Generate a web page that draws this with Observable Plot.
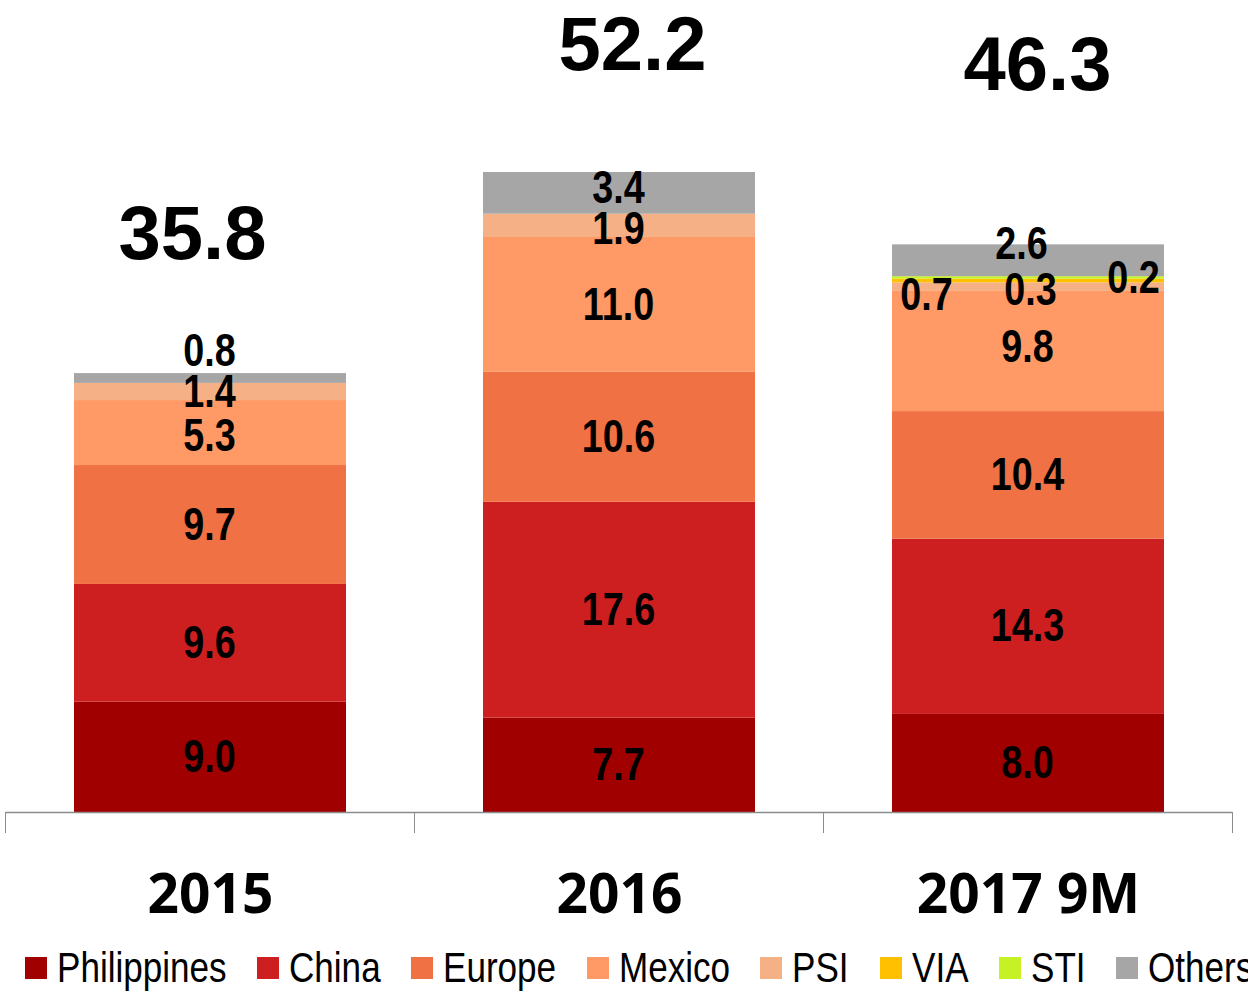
<!DOCTYPE html>
<html><head><meta charset="utf-8">
<script src="https://cdn.jsdelivr.net/npm/d3@7"></script>
<script src="https://cdn.jsdelivr.net/npm/@observablehq/plot@0.6"></script>
<style>
html,body{margin:0;padding:0;background:#fff}
body{width:1248px;height:995px;overflow:hidden}
#legend{display:flex;align-items:center;height:55px;padding-left:25px;white-space:nowrap;font-family:"Liberation Sans",Arial,sans-serif;font-size:42px;color:#000}
.item{display:flex;align-items:center;margin-right:30.5px;flex:none}
.sw{width:22px;height:22px;margin-right:10px;flex:none}
.lt{display:inline-block;transform-origin:left center}
</style></head><body><div id="chart"></div><div id="legend"></div>
<script>
const years = ["2015", "2016", "2017 9M"];
const series = ["Philippines", "China", "Europe", "Mexico", "PSI", "VIA", "STI", "Others"];
const colors = ["#A00000", "#CD1F1F", "#F07244", "#FF9966", "#F5B085", "#FFC000", "#C5F125", "#A6A6A6"];
const philippines = [9.0, 7.7, 8.0];
const china = [9.6, 17.6, 14.3];
const europe = [9.7, 10.6, 10.4];
const mexico = [5.3, 11.0, 9.8];
const psi = [1.4, 1.9, 0.7];
const via = [0, 0, 0.3];
const sti = [0, 0, 0.2];
const others = [0.8, 3.4, 2.6];
const totals = [35.8, 52.2, 46.3];

const valuesBySeries = [philippines, china, europe, mexico, psi, via, sti, others];
const NARROW = 0.82; // emulate a narrow face by horizontal compression
const LEGEND_NARROW = 0.835;

// label nudges in pixels [dx, dy]
const nudges = {
  "2015|Others": [0, -27], "2015|Mexico": [0, 3],
  "2016|Others": [0, -5], "2016|PSI": [0, 3],
  "2017 9M|Mexico": [0, -4], "2017 9M|PSI": [-101, 8], "2017 9M|VIA": [3, 9],
  "2017 9M|STI": [106, 0], "2017 9M|Others": [-6, -17]
};
const totalNudges = [[-18, -139], [13, -127], [9, -179]];

const rows = [];
years.forEach((yr, i) => {
  let cum = 0;
  series.forEach((s, j) => {
    const v = valuesBySeries[j][i];
    if (v > 0) {
      rows.push({year: yr, series: s, value: v, mid: cum + v / 2});
      cum += v;
    }
  });
});

const labelMarks = rows.map(r => {
  const n = nudges[r.year + "|" + r.series] || [0, 0];
  return Plot.text([r], {
    x: "year", y: "mid", text: d => d.value.toFixed(1),
    dx: n[0] - 1, dy: n[1], fontSize: 46, fontWeight: "bold", fill: "#000",
    fontFamily: '"Liberation Sans",Arial,sans-serif'
  });
});
const totalMarks = years.map((yr, i) => Plot.text([{year: yr, total: totals[i]}], {
  x: "year", y: "total", text: d => d.total.toFixed(1),
  dx: totalNudges[i][0], dy: totalNudges[i][1], fontSize: 76, fontWeight: "bold",
  fill: "#000", fontFamily: '"Liberation Sans",Arial,sans-serif'
}));

const chart = Plot.plot({
  width: 1248, height: 940,
  marginTop: 0, marginBottom: 128, marginLeft: 5, marginRight: 16,
  x: {domain: years, paddingInner: 0.335, paddingOuter: 0.1675, align: 0.5, axis: null},
  y: {domain: [0, 66.23], axis: null},
  color: {domain: series, range: colors},
  style: {background: "#fff"},
  marks: [
    Plot.barY(rows, Plot.stackY({x: "year", y: "value", fill: "series", z: "series", order: series})),
    ...labelMarks,
    ...totalMarks,
    Plot.text(years, {x: d => d, y: () => 0, text: d => d, dy: 83, fontSize: 55, fontWeight: "bold",
      fill: "#000", fontFamily: '"Open Sans",Lato,sans-serif'})
  ]
});
document.getElementById("chart").appendChild(chart);

// compress segment labels horizontally (Arial Narrow look)
d3.select(chart).selectAll('g[font-size="46"] text').each(function() {
  const w = this.getComputedTextLength();
  this.setAttribute("textLength", (w * NARROW).toFixed(2));
  this.setAttribute("lengthAdjust", "spacingAndGlyphs");
});

// axis baseline and category boundary ticks, from the library's scales
const xs = chart.scale("x"), ys = chart.scale("y");
const y0 = ys.apply(0);
const half = (xs.step - xs.bandwidth) / 2;
const bounds = years.map(d => xs.apply(d) - half);
bounds.push(xs.apply(years[years.length - 1]) + xs.bandwidth + half);
const g = d3.select(chart).append("g");
g.append("line").attr("x1", bounds[0]).attr("x2", bounds[bounds.length - 1])
  .attr("y1", y0 + 0.5).attr("y2", y0 + 0.5).attr("stroke", "#8c8c8c").attr("stroke-width", 1.5);
bounds.forEach(b => g.append("line").attr("x1", b).attr("x2", b)
  .attr("y1", y0).attr("y2", y0 + 21).attr("stroke", "#8c8c8c").attr("stroke-width", 1));

const legend = document.getElementById("legend");
series.forEach((s, j) => {
  const it = document.createElement("div"); it.className = "item";
  const sw = document.createElement("div"); sw.className = "sw"; sw.style.background = colors[j];
  const t = document.createElement("span"); t.className = "lt"; t.textContent = s;
  it.appendChild(sw); it.appendChild(t); legend.appendChild(it);
});
legend.querySelectorAll(".lt").forEach(t => {
  const w = t.getBoundingClientRect().width;
  t.style.transform = `scaleX(${LEGEND_NARROW})`;
  t.style.marginRight = `${-(1 - LEGEND_NARROW) * w}px`;
});
</script></body></html>
